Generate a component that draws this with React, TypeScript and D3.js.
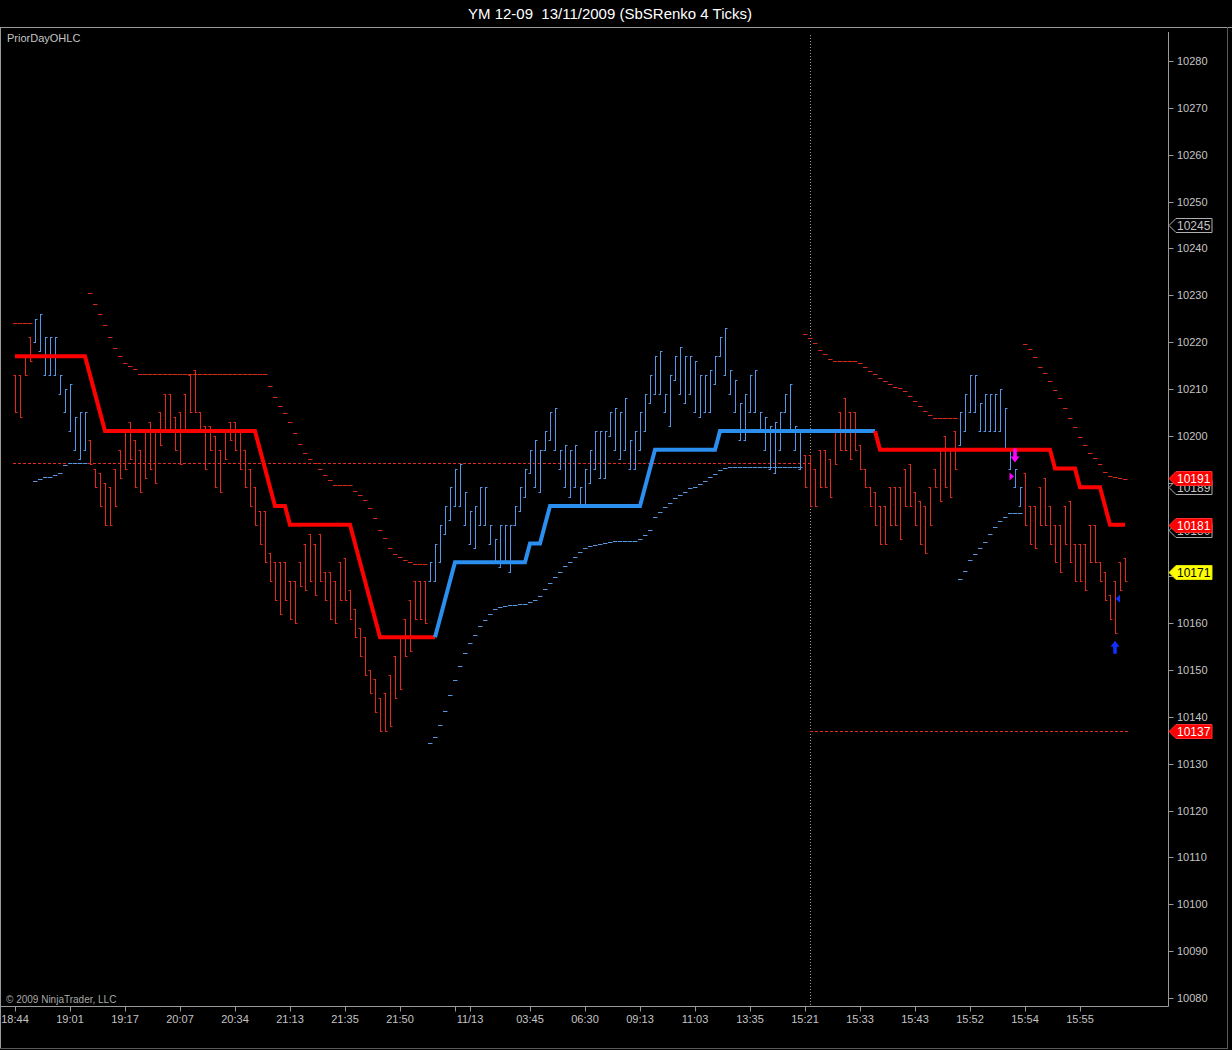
import React from "react";
import * as d3 from "d3";

// ---- data ----
// bar highs / lows (YM points), index = bar number (Renko bricks)
const barHigh = [
  10213, 10213, 10217, 10221, 10225, 10226, 10221, 10221, 10221, 10213,
  10210, 10211, 10204, 10205, 10205, 10199, 10193, 10192, 10190, 10189,
  10193, 10197, 10201, 10203, 10199, 10197, 10201, 10203, 10201, 10205,
  10209, 10209, 10204, 10205, 10209, 10213, 10214, 10205, 10202, 10202,
  10200, 10197, 10201, 10203, 10203, 10201, 10197, 10193, 10189, 10184,
  10184, 10175, 10173, 10173, 10173, 10169, 10169, 10173, 10177, 10179,
  10177, 10179, 10171, 10171, 10169, 10173, 10174, 10167, 10163, 10159,
  10157, 10150, 10148, 10144, 10145, 10149, 10153, 10157, 10161, 10165,
  10169, 10169, 10169, 10173, 10177, 10181, 10185, 10189, 10193, 10194,
  10188, 10184, 10185, 10189, 10189, 10181, 10178, 10181, 10181, 10181,
  10185, 10189, 10193, 10197, 10199, 10197, 10201, 10205, 10206, 10197,
  10198, 10197, 10198, 10189, 10193, 10197, 10201, 10201, 10201, 10205,
  10206, 10205, 10208, 10199, 10201, 10205, 10209, 10213, 10217, 10218,
  10209, 10213, 10217, 10219, 10217, 10217, 10216, 10213, 10213, 10214,
  10217, 10221, 10223, 10214, 10212, 10207, 10209, 10213, 10214, 10205,
  10204, 10202, 10203, 10205, 10209, 10211, 10202, 10201, 10196, 10196,
  10193, 10197, 10197, 10195, 10201, 10205, 10208, 10205, 10205, 10198,
  10193, 10189, 10188, 10185, 10185, 10189, 10189, 10189, 10193, 10194,
  10188, 10186, 10185, 10189, 10193, 10197, 10200, 10197, 10201, 10205,
  10209, 10213, 10213, 10207, 10209, 10209, 10209, 10210, 10206, 10197,
  10193, 10189, 10192, 10185, 10185, 10189, 10191, 10185, 10181, 10181,
  10185, 10186, 10177, 10177, 10177, 10181, 10181, 10173, 10171, 10166,
  10169, 10173, 10174,
];
const barLow = [
  10205, 10204, 10213, 10216, 10220, 10218, 10213, 10213, 10213, 10209,
  10205, 10201, 10197, 10195, 10197, 10194, 10189, 10185, 10181, 10181,
  10185, 10191, 10193, 10195, 10189, 10188, 10191, 10193, 10190, 10198,
  10201, 10201, 10197, 10194, 10201, 10205, 10205, 10201, 10193, 10197,
  10189, 10188, 10195, 10199, 10197, 10193, 10189, 10185, 10181, 10177,
  10173, 10169, 10165, 10162, 10165, 10161, 10160, 10168, 10167, 10169,
  10166, 10169, 10165, 10161, 10160, 10165, 10165, 10161, 10157, 10153,
  10149, 10145, 10141, 10137, 10137, 10138, 10144, 10146, 10153, 10154,
  10161, 10161, 10160, 10169, 10169, 10173, 10179, 10182, 10185, 10185,
  10181, 10177, 10176, 10181, 10181, 10177, 10173, 10172, 10173, 10171,
  10181, 10184, 10187, 10192, 10189, 10188, 10197, 10199, 10197, 10193,
  10189, 10187, 10189, 10185, 10185, 10190, 10193, 10191, 10191, 10200,
  10197, 10195, 10197, 10193, 10193, 10197, 10201, 10207, 10209, 10209,
  10205, 10202, 10212, 10209, 10207, 10209, 10205, 10204, 10205, 10205,
  10211, 10217, 10213, 10209, 10205, 10199, 10199, 10205, 10205, 10201,
  10197, 10193, 10192, 10197, 10205, 10201, 10197, 10193, 10189, 10185,
  10185, 10189, 10189, 10187, 10194, 10197, 10197, 10195, 10197, 10193,
  10189, 10185, 10181, 10177, 10177, 10181, 10181, 10178, 10185, 10185,
  10181, 10177, 10175, 10181, 10189, 10186, 10189, 10187, 10193, 10198,
  10201, 10205, 10205, 10201, 10201, 10201, 10201, 10201, 10197, 10193,
  10189, 10185, 10181, 10177, 10176, 10181, 10181, 10177, 10173, 10171,
  10177, 10173, 10169, 10169, 10167, 10173, 10173, 10169, 10165, 10161,
  10158, 10167, 10169,
];
// brick colour runs: [first bar, "u" | "d"]
const barTrend: [number, string][] = [
  [0, "d"], [4, "u"], [15, "d"], [83, "u"], [158, "d"], [189, "u"], [202, "d"],
];

// thick trend stop line: [first bar, value]
const stopSteps: [number, number][] = [
  [0, 10217], [15, 10213], [16, 10209], [17, 10205], [18, 10201], [49, 10197],
  [50, 10193], [51, 10189], [52, 10185], [55, 10181], [68, 10177], [69, 10173],
  [70, 10169], [71, 10165], [72, 10161], [73, 10157], [85, 10161], [86, 10165],
  [87, 10169], [88, 10173], [103, 10177], [106, 10181], [107, 10185], [126, 10189],
  [127, 10193], [128, 10197], [141, 10201], [173, 10197], [208, 10193],
  [213, 10189], [218, 10185], [219, 10181],
];
const stopTrend: [number, string][] = [[0, "d"], [85, "u"], [173, "d"]];

// trailing dashes: [first bar, values...]
const trailRed: [number, number[]][] = [
  [0, [10224, 10224, 10224, 10224]],
  [15, [
    10230.4, 10228.1, 10225.9, 10223.6, 10221, 10218.8, 10217.1, 10215.6, 10215, 10214.2,
    10213.1, 10213.1, 10213.1, 10213.1, 10213.1, 10213.1, 10213.1, 10213.1, 10213.1, 10213.1,
    10213.1, 10213.1, 10213.1, 10213.1, 10213.1, 10213.1, 10213.1, 10213.1, 10213.1, 10213.1,
    10213.1, 10213.1, 10213.1, 10213.1, 10213.1, 10213.1,
    10210.7, 10208.3, 10206.4, 10204.8, 10203, 10200.7, 10198.2, 10196.4, 10195, 10194.1,
    10192.9, 10191.6, 10190.6, 10189.6, 10189.6, 10189.6, 10189.6, 10188.3, 10187.4, 10186.4,
    10184.5, 10182.4, 10180, 10178.1, 10176, 10174.7, 10174.1, 10173.5, 10173.1, 10172.6,
    10172.6, 10172.6,
  ]],
  [158, [
    10221.7, 10220.8, 10219.9, 10218.3, 10217.4, 10216.3, 10216, 10216, 10216, 10216,
    10216, 10215.6, 10214.7, 10213.9, 10213.2, 10212.3, 10211.8, 10211, 10210.5, 10210.1,
    10209.6, 10208.6, 10207.4, 10206.4, 10205.4, 10204.4, 10203.9, 10203.9, 10203.9, 10203.9,
    10203.9,
  ]],
  [202, [
    10219.7, 10218.5, 10216.9, 10214.7, 10213.5, 10211.8, 10209.8, 10208, 10205.9, 10203.9,
    10201.9, 10199.8, 10198, 10196.3, 10195.2, 10194, 10192.3, 10191.4, 10191.3, 10190.9,
    10190.7,
  ]],
];
const trailBlue: [number, number[]][] = [
  [4, [10190.3, 10190.7, 10191.1, 10191.3, 10191.6, 10192.1, 10193.8, 10194.1, 10194.1, 10194.1, 10194.1]],
  [83, [
    10134.4, 10135.8, 10138.3, 10141.3, 10144.7, 10147.9, 10150.9, 10153.7, 10155.8, 10157.5,
    10159.4, 10160.7, 10162, 10163, 10163.4, 10163.7, 10163.9, 10163.9, 10164.1, 10164.2,
    10164.6, 10165, 10165.7, 10167.2, 10168.5, 10169.8, 10171, 10172.2, 10173.1, 10174.2,
    10175.3, 10176, 10176.5, 10176.7, 10176.9, 10177.1, 10177.3, 10177.5, 10177.6, 10177.6,
    10177.6, 10177.6, 10177.9, 10178.8, 10179.9, 10182.7, 10183.7, 10184.7, 10185.7, 10186.7,
    10187.4, 10188.1, 10188.8, 10189.1, 10189.7, 10190.4, 10191.1, 10191.8, 10192.6, 10193.1,
    10193.3, 10193.3, 10193.3, 10193.3, 10193.3, 10193.3, 10193.3, 10193.3, 10193.3, 10193.3,
    10193.3, 10193.3, 10193.3, 10193.3, 10193.3,
  ]],
  [189, [10169.4, 10171.2, 10173.5, 10174.8, 10176, 10177.4, 10179, 10180.5, 10181.9, 10182.7, 10183.6, 10183.6, 10183.6]],
];

// PriorDayOHLC lines: [from bar, to bar, price]
const priorDay: [number, number, number][] = [
  [-0.4, 159, 10194.2],
  [159, 222.6, 10137],
];
const sessionBreak = 159;

const xTickBars = [0, 11, 22, 33, 44, 55, 66, 77, 88, 91, 103, 114, 125, 136, 147, 158, 169, 180, 191, 202, 213];
const xTickLabels = ["18:44", "19:01", "19:17", "20:07", "20:34", "21:13", "21:35", "21:50", "", "11/13", "03:45", "06:30", "09:13", "11:03", "13:35", "15:21", "15:33", "15:43", "15:52", "15:54", "15:55"];

// price tags on the right axis
const tags: { price: number; kind: string }[] = [
  { price: 10245, kind: "gray" },
  { price: 10189, kind: "gray" },
  { price: 10180, kind: "gray" },
  { price: 10191, kind: "red" },
  { price: 10181, kind: "red" },
  { price: 10171, kind: "yellow" },
  { price: 10137, kind: "red" },
];

// signal markers
const markers: { bar: number; price: number; kind: string }[] = [
  { bar: 200, price: 10195.6, kind: "downArrow" },
  { bar: 199.3, price: 10191.3, kind: "rightTri" },
  { bar: 220, price: 10155, kind: "upArrow" },
  { bar: 220.6, price: 10165.2, kind: "leftTri" },
];

const RED_BAR = "#e2291c";
const BLUE_BAR = "#5696e6";
const AXIS = "#9a9a9a";
const TEXT = "#c4c4c4";
const FONT = "Arial, 'Liberation Sans', sans-serif";

function runValue<T>(runs: [number, T][], i: number): T {
  let v = runs[0][1];
  for (const [s, val] of runs) if (i >= s) v = val;
  return v;
}

export default function App() {
  const width = 1232;
  const height = 1050;
  const n = barHigh.length;

  const x = d3.scaleLinear().domain([0, n - 1]).range([15, 1125]);
  const y = d3.scaleLinear().domain([10080, 10280]).range([998, 61]);
  const yTicks = y.ticks(20);

  const axisX = 1168.5;
  const axisY = 1006.5;

  // stop line split into colour runs
  const stopVals = d3.range(n).map((i) => runValue(stopSteps, i));
  const stopCols = d3.range(n).map((i) => runValue(stopTrend, i));
  const stopRuns: { col: string; pts: [number, number][] }[] = [];
  for (let i = 0; i < n; i++) {
    const c = stopCols[i];
    const last = stopRuns[stopRuns.length - 1];
    if (!last || last.col !== c) {
      const pts: [number, number][] = i > 0 ? [[x(i - 1), y(stopVals[i - 1])]] : [];
      stopRuns.push({ col: c, pts });
    }
    stopRuns[stopRuns.length - 1].pts.push([x(i), y(stopVals[i])]);
  }
  const line = d3.line<[number, number]>();

  const dashes = (runs: [number, number[]][], color: string, key: string) =>
    runs.flatMap(([s, vals]) =>
      vals.map((v, k) => (
        <line
          key={`${key}-${s + k}`}
          x1={x(s + k) - 2}
          x2={x(s + k) + 2.5}
          y1={Math.round(y(v)) + 0.5}
          y2={Math.round(y(v)) + 0.5}
          stroke={color}
          strokeWidth={1}
        />
      ))
    );

  const tagShape = (price: number, kind: string, i: number) => {
    const yc = Math.round(y(price)) + 0.5;
    const x0 = 1169;
    const d = `M${x0},${yc} L${x0 + 7},${yc - 7} L${x0 + 43},${yc - 7} L${x0 + 43},${yc + 7} L${x0 + 7},${yc + 7} Z`;
    const fill = kind === "red" ? "#ff0000" : kind === "yellow" ? "#ffff00" : "#000000";
    const stroke = kind === "gray" ? "#b0b0b0" : kind === "red" ? "#ff3030" : "#e0e000";
    const tc = kind === "red" ? "#ffffff" : kind === "yellow" ? "#000000" : TEXT;
    return (
      <g key={`tag-${i}`}>
        <path d={d} fill={fill} stroke={stroke} strokeWidth={1} />
        <text x={x0 + 8} y={yc + 4.5} fill={tc} fontSize={12} fontFamily={FONT}>
          {price}
        </text>
      </g>
    );
  };

  const marker = (m: { bar: number; price: number; kind: string }, i: number) => {
    const cx = x(m.bar);
    const cy = y(m.price);
    if (m.kind === "downArrow") {
      return (
        <path key={`m${i}`} fill="#ff00ff"
          d={`M${cx - 1.8},${cy - 8} L${cx + 1.8},${cy - 8} L${cx + 1.8},${cy} L${cx + 4.5},${cy} L${cx},${cy + 6} L${cx - 4.5},${cy} L${cx - 1.8},${cy} Z`} />
      );
    }
    if (m.kind === "upArrow") {
      return (
        <path key={`m${i}`} fill="#1030ff"
          d={`M${cx - 1.8},${cy + 7} L${cx + 1.8},${cy + 7} L${cx + 1.8},${cy} L${cx + 4.5},${cy} L${cx},${cy - 6} L${cx - 4.5},${cy} L${cx - 1.8},${cy} Z`} />
      );
    }
    if (m.kind === "rightTri") {
      return <path key={`m${i}`} fill="#ff00ff" d={`M${cx - 2},${cy - 4} L${cx + 2.5},${cy} L${cx - 2},${cy + 4} Z`} />;
    }
    return <path key={`m${i}`} fill="#1030ff" d={`M${cx + 2},${cy - 4} L${cx - 2.5},${cy} L${cx + 2},${cy + 4} Z`} />;
  };

  return (
    <div style={{ width, height, background: "#000" }}>
      <style>{`body{margin:0;background:#000}`}</style>
      <svg width={width} height={height} style={{ display: "block", background: "#000" }}>
        {/* title */}
        <text x={610} y={19} textAnchor="middle" fill="#ffffff" fontSize={15} fontFamily={FONT}
          style={{ whiteSpace: "pre" }}>
          {"YM 12-09  13/11/2009 (SbSRenko 4 Ticks)"}
        </text>

        {/* frame */}
        <line x1={0} x2={width} y1={27.5} y2={27.5} stroke={AXIS} />
        <line x1={0.5} x2={0.5} y1={27} y2={1049} stroke={AXIS} />
        <line x1={1227.5} x2={1227.5} y1={27} y2={1049} stroke="#5a5a5a" />
        <line x1={0} x2={1228} y1={1048.5} y2={1048.5} stroke="#5a5a5a" />

        <text x={7} y={42} fill={TEXT} fontSize={11} fontFamily={FONT}>PriorDayOHLC</text>

        {/* session break */}
        <line x1={x(sessionBreak) + 0.5} x2={x(sessionBreak) + 0.5} y1={35} y2={axisY}
          stroke="#9a9a9a" strokeDasharray="1,2" />

        {/* prior day lines */}
        {priorDay.map(([a, b, p], i) => (
          <line key={`pd${i}`} x1={x(a)} x2={x(b)} y1={Math.round(y(p)) + 0.5} y2={Math.round(y(p)) + 0.5}
            stroke="#e42a1e" strokeDasharray="3,2" />
        ))}

        {/* trailing dashes */}
        {dashes(trailRed, "#d42a1e", "tr")}
        {dashes(trailBlue, "#5a96dc", "tb")}

        {/* bars */}
        {d3.range(n).map((i) => {
          const up = runValue(barTrend, i) === "u";
          const c = up ? BLUE_BAR : RED_BAR;
          const cx = Math.round(x(i)) + 0.5;
          const yh = Math.round(y(barHigh[i]));
          const yl = Math.round(y(barLow[i]));
          const yo = up ? yl : yh;
          const yc = up ? yh : yl;
          return (
            <g key={`b${i}`} stroke={c} strokeWidth={1}>
              <line x1={cx} x2={cx} y1={yh} y2={yl + 1} />
              <line x1={cx - 2} x2={cx} y1={yo + 0.5} y2={yo + 0.5} />
              <line x1={cx} x2={cx + 2} y1={yc + 0.5} y2={yc + 0.5} />
            </g>
          );
        })}

        {/* trend stop line */}
        {stopRuns.map((r, i) => (
          <path key={`s${i}`} d={line(r.pts) ?? ""} fill="none"
            stroke={r.col === "u" ? "#2b8ff0" : "#ff0000"} strokeWidth={4} strokeLinejoin="miter" />
        ))}

        {markers.map(marker)}

        {/* y axis */}
        <line x1={axisX} x2={axisX} y1={32} y2={axisY} stroke={AXIS} />
        {yTicks.map((t) => (
          <g key={`yt${t}`}>
            <line x1={axisX} x2={axisX + 5} y1={Math.round(y(t)) + 0.5} y2={Math.round(y(t)) + 0.5} stroke={AXIS} />
            <text x={1177} y={Math.round(y(t)) + 4} fill={TEXT} fontSize={11} fontFamily={FONT}>{t}</text>
          </g>
        ))}
        {tags.map((t, i) => tagShape(t.price, t.kind, i))}

        {/* x axis */}
        <line x1={0} x2={axisX} y1={axisY} y2={axisY} stroke={AXIS} />
        {xTickBars.map((b, i) => (
          <g key={`xt${i}`}>
            <line x1={Math.round(x(b)) + 0.5} x2={Math.round(x(b)) + 0.5} y1={axisY} y2={axisY + 5} stroke={AXIS} />
            <text x={x(b)} y={1023} textAnchor="middle" fill={TEXT} fontSize={11} fontFamily={FONT}>{xTickLabels[i]}</text>
          </g>
        ))}
        <text x={6} y={1003} fill="#a8a8a8" fontSize={10} fontFamily={FONT}>© 2009 NinjaTrader, LLC</text>
      </svg>
    </div>
  );
}
